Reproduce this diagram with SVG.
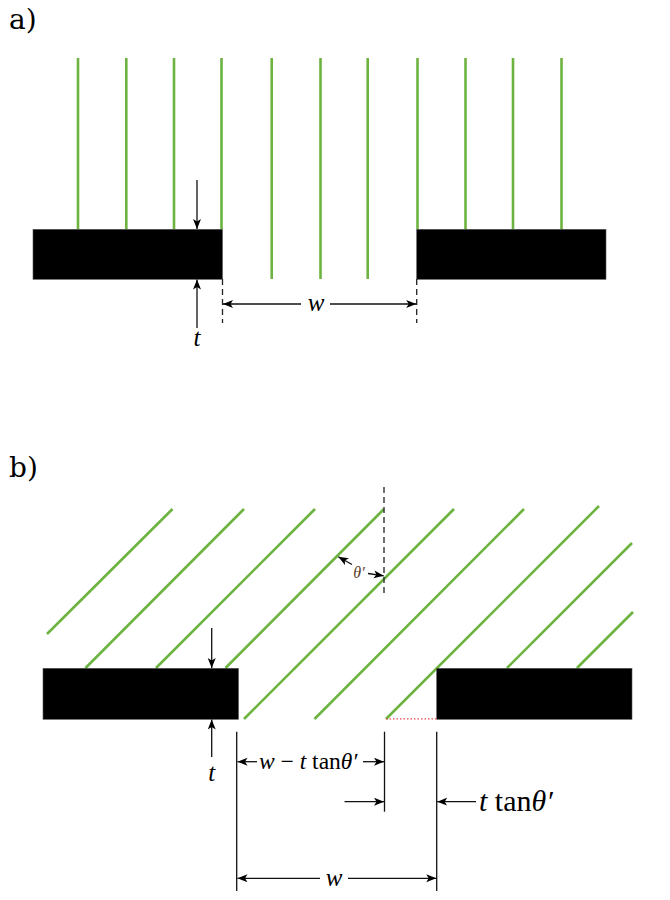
<svg xmlns="http://www.w3.org/2000/svg" width="670" height="900" viewBox="0 0 670 900">
<defs>
<marker id="ah" markerUnits="userSpaceOnUse" markerWidth="11" markerHeight="9" refX="10" refY="4" orient="auto">
<path d="M0,0 L10,4 L0,8 L2.5,4 z" fill="#000"/>
</marker>
</defs>
<style>
.wave{stroke:#6cb33f;stroke-width:2.6;fill:none;stroke-linecap:butt}
.slab{fill:#000;stroke:#555;stroke-width:0.6}
.dim{stroke:#111;stroke-width:1.3;fill:none}
.arr{stroke:#111;stroke-width:1.3;fill:none;marker-end:url(#ah)}
.dash{stroke:#222;stroke-width:1.3;fill:none;stroke-dasharray:6,4}
</style>
<rect width="670" height="900" fill="#fff"/>

<!-- Panel a -->
<g id="label-a"><text x="9" y="29" font-family="DejaVu Serif, serif" font-size="28" fill="#000">a)</text></g>
<g id="wavefronts-a">
<line class="wave" x1="78" y1="58" x2="78" y2="229"/>
<line class="wave" x1="126.3" y1="58" x2="126.3" y2="229"/>
<line class="wave" x1="174" y1="58" x2="174" y2="229"/>
<line class="wave" x1="221.5" y1="58" x2="221.5" y2="229"/>
<line class="wave" x1="271.7" y1="58" x2="271.7" y2="279"/>
<line class="wave" x1="320.5" y1="58" x2="320.5" y2="279"/>
<line class="wave" x1="367.7" y1="58" x2="367.7" y2="279"/>
<line class="wave" x1="417.5" y1="58" x2="417.5" y2="229"/>
<line class="wave" x1="465.5" y1="58" x2="465.5" y2="229"/>
<line class="wave" x1="513" y1="58" x2="513" y2="229"/>
<line class="wave" x1="561.5" y1="58" x2="561.5" y2="229"/>
</g>
<g id="slab-a-left"><rect class="slab" x="33" y="229.3" width="189.5" height="50"/></g>
<g id="slab-a-right"><rect class="slab" x="416.7" y="229.3" width="189.3" height="50"/></g>
<g id="connectors-a">
<line class="arr" x1="197" y1="180" x2="197" y2="229"/>
<line class="arr" x1="197" y1="328" x2="197" y2="279.5"/>
<line class="dash" x1="222.5" y1="279" x2="222.5" y2="323"/>
<line class="dash" x1="416.7" y1="279" x2="416.7" y2="323"/>
<line class="arr" x1="301" y1="304" x2="223" y2="304"/>
<line class="arr" x1="330" y1="304" x2="416.2" y2="304"/>
</g>
<g id="text-a" font-family="Liberation Serif, serif" font-size="25" font-style="italic" fill="#000">
<text x="197" y="346" text-anchor="middle">t</text>
<text x="316" y="311" text-anchor="middle">w</text>
</g>

<!-- Panel b -->
<g id="label-b"><text x="9" y="477" font-family="DejaVu Serif, serif" font-size="28" fill="#000">b)</text></g>
<g id="wavefronts-b">
<line class="wave" x1="47" y1="634" x2="172.5" y2="509"/>
<line class="wave" x1="85.5" y1="668" x2="244" y2="509"/>
<line class="wave" x1="156" y1="668" x2="315" y2="509"/>
<line class="wave" x1="225.5" y1="668" x2="384" y2="509"/>
<line class="wave" x1="244" y1="719" x2="454" y2="509"/>
<line class="wave" x1="314.5" y1="719" x2="524" y2="509"/>
<line class="wave" x1="386" y1="719" x2="599" y2="506"/>
<line class="wave" x1="507" y1="668" x2="632" y2="543"/>
<line class="wave" x1="577" y1="668" x2="633" y2="612"/>
</g>
<g id="slab-b-left"><rect class="slab" x="43" y="668.3" width="195.5" height="51"/></g>
<g id="slab-b-right"><rect class="slab" x="436.7" y="668.3" width="195.3" height="51"/></g>
<g id="connectors-b">
<line x1="386" y1="718.8" x2="436.7" y2="718.8" stroke="#e8494f" stroke-width="1.3" stroke-dasharray="1.5,2"/>
<line class="dash" x1="384" y1="487" x2="384" y2="597"/>
<line class="arr" x1="352" y1="564.5" x2="338.3" y2="556.7"/>
<line class="arr" x1="368" y1="573.5" x2="383.8" y2="575.8"/>
<line class="arr" x1="211.7" y1="628" x2="211.7" y2="668"/>
<line class="arr" x1="211.7" y1="757" x2="211.7" y2="719.5"/>
<line class="dim" x1="236.7" y1="731.7" x2="236.7" y2="891"/>
<line class="dim" x1="384.5" y1="731.7" x2="384.5" y2="811.7"/>
<line class="dim" x1="436.7" y1="731.7" x2="436.7" y2="891"/>
<line class="arr" x1="257" y1="761.7" x2="237.5" y2="761.7"/>
<line class="arr" x1="363" y1="761.7" x2="384" y2="761.7"/>
<line class="arr" x1="344.5" y1="801.7" x2="384" y2="801.7"/>
<line class="arr" x1="476" y1="801.7" x2="437.2" y2="801.7"/>
<line class="arr" x1="320" y1="878.3" x2="237.5" y2="878.3"/>
<line class="arr" x1="348" y1="878.3" x2="436.2" y2="878.3"/>
</g>
<g id="text-b" font-family="Liberation Serif, serif" font-size="25" fill="#000">
<text x="359" y="578" text-anchor="middle" font-size="16" font-style="italic" fill="#5a3a1e">θ′</text>
<text x="211.7" y="781" text-anchor="middle" font-style="italic">t</text>
<text x="259" y="769" font-size="23.5"><tspan font-style="italic">w</tspan> − <tspan font-style="italic">t</tspan> tan<tspan font-style="italic">θ′</tspan></text>
<text x="479" y="811" font-size="30"><tspan font-style="italic">t</tspan> tan<tspan font-style="italic">θ′</tspan></text>
<text x="334" y="886" text-anchor="middle" font-style="italic">w</text>
</g>
</svg>
